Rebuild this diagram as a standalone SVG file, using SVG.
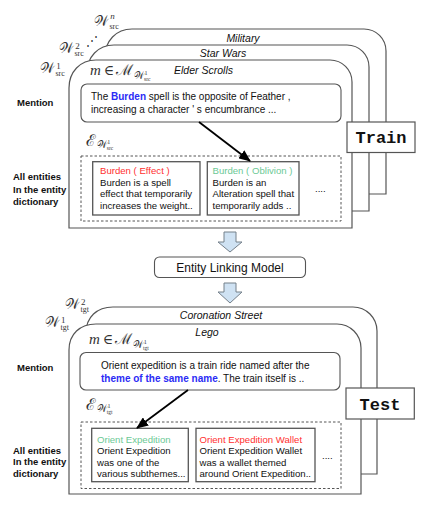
<svg xmlns="http://www.w3.org/2000/svg" width="430" height="510" viewBox="0 0 430 510">
<defs>
<style>
.card{fill:#fff;stroke:#555;stroke-width:1.2}
.title{font-family:"Liberation Sans",Arial,sans-serif;font-size:10.5px;font-style:italic;fill:#111;text-anchor:middle}
.mbox{fill:#fff;stroke:#555;stroke-width:1.1}
.dash{fill:none;stroke:#555;stroke-width:1;stroke-dasharray:2.5,2}
.ebox{fill:#fff;stroke:#555;stroke-width:1.3}
.t{font-family:"Liberation Sans",Arial,sans-serif;font-size:10px;fill:#111}
.et{font-family:"Liberation Sans",Arial,sans-serif;font-size:9.6px;fill:#111}
.lab{font-family:"Liberation Sans",Arial,sans-serif;font-size:9.5px;font-weight:bold;fill:#111}
.blue{fill:#2b2bf5;font-weight:bold}
.red{fill:#ff3030}
.green{fill:#6cc995}
.ms{font-family:"DejaVu Serif","Liberation Serif",serif;font-style:normal;fill:#333}
.mi{font-family:"Liberation Serif",serif;font-style:italic;fill:#333}
.mr{font-family:"Liberation Serif",serif;font-style:normal;fill:#333}
.tag{fill:#fff;stroke:#555;stroke-width:1.2}
.tagt{font-family:"Liberation Mono","Courier New",monospace;font-weight:bold;font-size:17px;fill:#111;text-anchor:middle}
.arr{stroke:#000;stroke-width:1.8;fill:none}
.blk{fill:#cfe2f3;stroke:#75808a;stroke-width:1}
</style>
<marker id="ah" markerUnits="userSpaceOnUse" markerWidth="12" markerHeight="10" refX="11" refY="5" orient="auto">
<path d="M0,0 L12,5 L0,10 Z" fill="#000"/>
</marker>
</defs>

<g id="world-military">
<path class="card" d="M105,194 V57 C105,41 116,29 132,29 H364 A22,22 0 0 1 386,51 V194 Z"/>
<text class="title" x="243" y="42">Military</text>
<text class="ms" x="94" y="26" font-size="14">𝒲<tspan class="mr" font-size="8" dx="0.5" dy="2.5">src</tspan><tspan class="mi" font-size="9" dx="-8.5" dy="-10">n</tspan></text>
<text class="ms" x="86" y="45" font-size="12">⋰</text>
</g>
<g id="world-starwars">
<path class="card" d="M87,211 V73 C87,57 98,45 114,45 H347 A22,22 0 0 1 369,67 V211 Z"/>
<text class="title" x="223" y="57">Star Wars</text>
<text class="ms" x="59" y="53" font-size="14">𝒲<tspan class="mr" font-size="8" dx="0.5" dy="2.5">src</tspan><tspan class="mr" font-size="9" dx="-8.5" dy="-7">2</tspan></text>
</g>
<g id="world-elderscrolls">
<path class="card" d="M69,228 V88 C69,72 80,60 96,60 H330 A22,22 0 0 1 352,82 V228 Z"/>
<text class="title" x="203.5" y="74">Elder Scrolls</text>
<text class="ms" x="40" y="73" font-size="14">𝒲<tspan class="mr" font-size="8" dx="0.5" dy="2.5">src</tspan><tspan class="mr" font-size="9" dx="-8.5" dy="-6.5">1</tspan></text>
<text class="ms" x="90" y="75" font-size="14"><tspan class="mi" font-size="15">m</tspan><tspan dx="3">∈</tspan><tspan dx="2" font-size="15">ℳ</tspan><tspan font-size="10" dx="0.5" dy="4">𝒲</tspan><tspan class="mr" font-size="5.5" dx="0.3" dy="2">src</tspan><tspan class="mr" font-size="6" dx="-6" dy="-6">1</tspan></text>
</g>

<g id="mention-label-train">
<text class="lab" x="17" y="105.5">Mention</text>
</g>
<g id="mention-train">
<rect class="mbox" x="81" y="84" width="260" height="38" rx="6"/>
<text class="t" x="91" y="99.5">The <tspan class="blue">Burden</tspan> spell is the opposite of Feather ,</text>
<text class="t" x="91" y="113">increasing a character ' s encumbrance ...</text>
</g>
<g id="entities-label-train">
<text class="lab" x="13" y="180">All entities</text>
<text class="lab" x="13" y="192.5">In the entity</text>
<text class="lab" x="13" y="205">dictionary</text>
</g>
<g id="entity-dict-train">
<text class="ms" x="86" y="146" font-size="16">ℰ<tspan font-size="10" dx="0.5" dy="2">𝒲</tspan><tspan class="mr" font-size="5.5" dx="0.3" dy="1.5">src</tspan><tspan class="mr" font-size="6" dx="-6" dy="-6">1</tspan></text>
<rect class="dash" x="81" y="156" width="260" height="65"/>
</g>
<g id="entity-burden-effect">
<rect class="ebox" x="92.7" y="161.7" width="107.3" height="53.3"/>
<text class="et" x="100" y="174"><tspan class="red">Burden ( Effect )</tspan></text>
<text class="et" x="100" y="185.5">Burden is a spell</text>
<text class="et" x="100" y="197">effect that temporarily</text>
<text class="et" x="100" y="208.5">increases the weight..</text>
</g>
<g id="entity-burden-oblivion">
<rect class="ebox" x="207.3" y="161.7" width="91.7" height="53.3"/>
<text class="et" x="212.5" y="174"><tspan class="green">Burden ( Oblivion )</tspan></text>
<text class="et" x="212.5" y="185.5">Burden is an</text>
<text class="et" x="212.5" y="197">Alteration spell that</text>
<text class="et" x="212.5" y="208.5">temporarily adds ..</text>
</g>
<g id="more-train"><text class="et" x="315" y="192">....</text></g>
<g id="tag-train">
<rect class="tag" x="347" y="122" width="68" height="30.5"/>
<text class="tagt" x="381" y="143">Train</text>
</g>

<g id="model">
<rect class="mbox" x="154.5" y="257" width="151" height="20.5" rx="5"/>
<text class="t" x="230" y="271.5" text-anchor="middle" style="font-size:12px">Entity Linking Model</text>
</g>

<g id="world-coronation">
<path class="card" d="M86,474 V333 C86,317 97,307 113,307 H353 A24,24 0 0 1 377,331 V474 Z"/>
<text class="title" x="221" y="319">Coronation Street</text>
<text class="ms" x="65" y="309" font-size="14">𝒲<tspan class="mr" font-size="8" dx="0.5" dy="2.5">tgt</tspan><tspan class="mr" font-size="9" dx="-8" dy="-7">2</tspan></text>
</g>
<g id="world-lego">
<path class="card" d="M69,494 V350 C69,334 80,324 96,324 H337 A24,24 0 0 1 361,348 V494 Z"/>
<text class="title" x="207" y="336">Lego</text>
<text class="ms" x="45" y="327" font-size="14">𝒲<tspan class="mr" font-size="8" dx="0.5" dy="2.5">tgt</tspan><tspan class="mr" font-size="9" dx="-8" dy="-6.5">1</tspan></text>
<text class="ms" x="89" y="344" font-size="14"><tspan class="mi" font-size="15">m</tspan><tspan dx="3">∈</tspan><tspan dx="2" font-size="15">ℳ</tspan><tspan font-size="10" dx="0.5" dy="4">𝒲</tspan><tspan class="mr" font-size="5.5" dx="0.3" dy="2">tgt</tspan><tspan class="mr" font-size="6" dx="-5" dy="-6">1</tspan></text>
</g>

<g id="mention-label-test">
<text class="lab" x="17" y="371">Mention</text>
</g>
<g id="mention-test">
<rect class="mbox" x="80" y="352.5" width="260" height="37.5" rx="6"/>
<text class="t" x="101" y="368.5">Orient expedition is a train ride named after the</text>
<text class="t" x="101" y="382"><tspan class="blue">theme of the same name</tspan>. The train itself is ..</text>
</g>
<g id="entities-label-test">
<text class="lab" x="13" y="453.5">All entities</text>
<text class="lab" x="13" y="465">In the entity</text>
<text class="lab" x="13" y="476.5">dictionary</text>
</g>
<g id="entity-dict-test">
<text class="ms" x="86" y="410" font-size="16">ℰ<tspan font-size="10" dx="0.5" dy="2">𝒲</tspan><tspan class="mr" font-size="5.5" dx="0.3" dy="1.5">tgt</tspan><tspan class="mr" font-size="6" dx="-5" dy="-6">1</tspan></text>
<rect class="dash" x="81" y="422" width="260" height="66.5"/>
</g>
<g id="entity-orient-expedition">
<rect class="ebox" x="91.7" y="428.3" width="96.6" height="53.4"/>
<text class="et" x="97" y="442.5"><tspan class="green">Orient Expedition</tspan></text>
<text class="et" x="97" y="454">Orient Expedition</text>
<text class="et" x="97" y="465.5">was one of the</text>
<text class="et" x="97" y="477">various subthemes...</text>
</g>
<g id="entity-orient-wallet">
<rect class="ebox" x="196" y="428.3" width="119" height="53.4"/>
<text class="et" x="199.5" y="442.5"><tspan class="red">Orient Expedition Wallet</tspan></text>
<text class="et" x="199.5" y="454">Orient Expedition Wallet</text>
<text class="et" x="199.5" y="465.5">was a wallet themed</text>
<text class="et" x="199.5" y="477">around Orient Expedition..</text>
</g>
<g id="more-test"><text class="et" x="322" y="458.5">....</text></g>
<g id="tag-test">
<rect class="tag" x="346" y="388" width="68.3" height="31"/>
<text class="tagt" x="380" y="410">Test</text>
</g>

<g id="connectors">
<line class="arr" x1="199" y1="122" x2="250" y2="161" marker-end="url(#ah)"/>
<line class="arr" x1="188" y1="390" x2="137" y2="428" marker-end="url(#ah)"/>
<path class="blk" d="M224,232 H236 V242 H242 L230,252 L218,242 H224 Z"/>
<path class="blk" d="M224,283 H236 V292 H242 L230,303 L218,292 H224 Z"/>
</g>
</svg>
